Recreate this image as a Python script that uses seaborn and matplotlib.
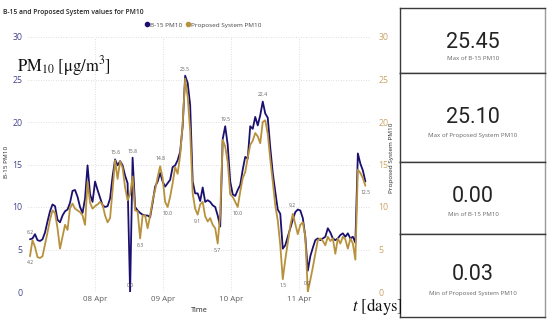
import pandas as pd
import matplotlib
matplotlib.use("Agg")
import matplotlib.pyplot as plt
import matplotlib.dates as mdates
from matplotlib.lines import Line2D
import seaborn as sns

# PM10 readings (one sample every ~53 min)
b15_pm10 = [
    6.2, 6.3, 6.8, 6.1, 6.0, 6.2, 7.0, 8.3, 9.5, 10.3, 10.1, 8.5, 8.2, 9.0, 9.5, 9.7,
    10.5, 11.9, 12.0, 11.2, 10.0, 9.3, 11.0, 14.9, 11.5, 10.6, 13.0, 12.0, 11.1, 10.2,
    10.0, 10.1, 11.0, 13.6, 15.6, 14.9, 15.4,
    14.9, 13.7, 12.8, 0.0, 15.8, 10.0, 9.6, 9.3, 9.1, 9.0, 9.0, 8.8, 10.5, 12.4, 13.0,
    14.0, 13.0, 12.4, 12.8, 13.2, 14.7, 14.9, 15.5, 16.5, 19.5, 25.45, 24.6, 22.0, 13.0,
    11.6, 11.6, 10.7, 12.3, 10.6, 10.8, 10.6,
    10.2, 10.0, 9.0, 7.7, 18.0, 19.5, 17.3, 13.0, 11.5, 11.3, 12.0, 12.6, 14.4, 15.9,
    15.7, 19.5, 19.2, 20.6, 19.6, 20.8, 22.4, 21.0, 20.5, 17.0, 14.0, 11.8, 9.7, 9.2,
    5.1, 5.5, 6.5, 7.5, 8.5, 9.4, 9.7, 9.6, 8.7, 6.5, 2.5, 4.2, 5.2, 6.1,
    6.3, 6.1, 6.3, 6.5, 7.5, 7.0, 6.3, 6.1, 6.3, 6.7, 6.9, 6.5, 6.9, 6.3, 6.5, 5.8,
    16.3, 15.1, 14.3, 13.0,
]
proposed_pm10 = [
    4.2, 6.1, 5.3, 4.1, 4.0, 4.2, 5.6, 7.0, 8.5, 9.6, 9.3, 7.5, 5.1, 6.5, 7.9, 7.3,
    9.9, 10.4, 9.8, 9.6, 9.4, 9.0, 7.9, 13.0, 10.5, 9.8, 10.1, 10.3, 10.6, 10.3,
    9.0, 8.2, 8.7, 12.0, 15.5, 13.3, 15.4,
    14.6, 12.3, 10.8, 11.5, 13.6, 9.6, 9.5, 6.3, 9.0, 9.0, 7.5, 9.0, 10.8, 12.0, 13.5,
    14.8, 13.4, 10.6, 10.0, 11.2, 12.8, 14.7, 13.9, 16.1, 19.8, 25.1, 23.0, 18.9, 11.6,
    9.8, 9.1, 10.3, 10.6, 8.9, 8.3, 8.7,
    7.9, 7.5, 5.7, 9.2, 17.9, 17.1, 15.3, 11.5, 11.2, 10.6, 10.0, 11.8, 13.4, 14.1,
    15.8, 17.3, 17.8, 18.7, 18.3, 17.5, 20.0, 20.2, 18.6, 15.6, 13.0, 10.2, 8.4, 5.5,
    1.5, 3.8, 5.8, 7.8, 9.2, 8.0, 6.8, 7.9, 8.2, 6.5, 0.03, 1.4, 2.9, 4.5,
    6.1, 6.3, 6.0, 5.5, 6.5, 6.0, 6.3, 4.5, 6.3, 5.7, 6.5, 6.2, 5.1, 6.3, 5.7, 3.8,
    14.4, 14.0, 13.4, 12.5,
]
start_time = "2021-04-07 01:03"
sample_step = "53min"
day_ticks = ["2021-04-08", "2021-04-09", "2021-04-10", "2021-04-11"]
y_ticks = [0, 5, 10, 15, 20, 25, 30]

# which points carry a data label
b15_label_idx = [0, 34, 40, 41, 62, 78, 93]
proposed_label_below = [0, 44, 55, 67, 75, 83, 101, 134]
proposed_label_above = [52, 105, 111]

NAVY = "#1b1070"
GOLD = "#b8913c"
GREY = "#605e5c"


def fmt1(v):
    # round half up like the dashboard does (25.45 -> 25.5)
    return f"{v + 1e-9:.1f}"


times = pd.date_range(start_time, periods=len(b15_pm10), freq=sample_step)
df = pd.DataFrame({"Time": times,
                   "B-15 PM10": b15_pm10,
                   "Proposed System PM10": proposed_pm10})

sns.set_theme(style="white")
plt.rcParams["font.family"] = ["Open Sans", "DejaVu Sans"]
plt.rcParams["mathtext.fontset"] = "stix"

fig = plt.figure(figsize=(5.5, 3.24), dpi=100)
W, H = 550, 324
ax = fig.add_axes([28 / W, 1 - 292 / H, 342 / W, 255 / H])

sns.lineplot(data=df, x="Time", y="B-15 PM10", ax=ax, color=NAVY, lw=1.3)
ax2 = ax.twinx()
sns.lineplot(data=df, x="Time", y="Proposed System PM10", ax=ax2, color=GOLD, lw=1.3)

for a in (ax, ax2):
    a.set_ylim(0, 30)
    a.set_yticks(y_ticks)
    a.set_ylabel("")
    a.set_xlabel("")
    for s in a.spines.values():
        s.set_visible(False)
ax.set_xlim(pd.Timestamp("2021-04-07 00:21"), pd.Timestamp("2021-04-12 01:03"))
ax.set_xticks(pd.to_datetime(day_ticks))
ax.xaxis.set_major_formatter(mdates.DateFormatter("%d %b"))
ax.grid(True, color="#d4d4d4", linestyle=(0, (1, 2)), lw=0.6)
ax2.grid(False)
ax.tick_params(axis="x", length=0, pad=3, labelsize=5.8, labelcolor=GREY)
ax.tick_params(axis="y", length=0, pad=4, labelsize=6.3, labelcolor="#44448c")
ax2.tick_params(axis="y", length=0, pad=6, labelsize=6.3, labelcolor="#c9a466")

# data labels
for i in b15_label_idx:
    ax.annotate(fmt1(b15_pm10[i]), (times[i], b15_pm10[i]), xytext=(0, 3),
                textcoords="offset points", ha="center", va="bottom",
                fontsize=3.6, color=GREY)
for i in proposed_label_below:
    ax2.annotate(fmt1(proposed_pm10[i]), (times[i], proposed_pm10[i]), xytext=(0, -3),
                 textcoords="offset points", ha="center", va="top",
                 fontsize=3.6, color=GREY)
for i in proposed_label_above:
    ax2.annotate(fmt1(proposed_pm10[i]), (times[i], proposed_pm10[i]), xytext=(0, 4),
                 textcoords="offset points", ha="center", va="bottom",
                 fontsize=3.6, color=GREY)

# titles / axis names
fig.text(3 / W, 1 - 13 / H, "B-15 and Proposed System values for PM10",
         fontsize=4.9, color="#252423", va="center", fontweight="semibold")
fig.text(7 / W, 1 - 162 / H, "B-15 PM10", rotation=90, fontsize=4.6,
         color="#252423", ha="center", va="center")
fig.text(391 / W, 1 - 158 / H, "Proposed System PM10", rotation=90, fontsize=4.6,
         color="#252423", ha="center", va="center")
fig.text(199 / W, 1 - 310 / H, "Time", fontsize=5.2, color="#252423",
         ha="center", va="center")

handles = [Line2D([], [], ls="", marker="o", ms=3, color=NAVY),
           Line2D([], [], ls="", marker="o", ms=3, color=GOLD)]
fig.legend(handles, ["B-15 PM10", "Proposed System PM10"], loc="center left",
           bbox_to_anchor=(142 / W, 1 - 25 / H), ncol=2, frameon=False,
           fontsize=4.6, handlelength=0.6, handletextpad=0.2, columnspacing=0.5,
           labelcolor="#444444", borderpad=0)

# serif annotations on top of the chart
fig.text(17 / W, 1 - 71 / H, r"PM$_{10}$ [μg/m$^{3}$]", fontsize=12,
         family="STIXGeneral", va="baseline", color="#111111")
fig.text(352 / W, 1 - 311 / H, r"$t$ [days]", fontsize=12,
         family="STIXGeneral", va="baseline", color="#111111")

# KPI cards
card_edges = [8, 73, 162, 234, 317]
card_vals = [f"{max(b15_pm10):.2f}", f"{max(proposed_pm10):.2f}",
             f"{min(b15_pm10):.2f}", f"{min(proposed_pm10):.2f}"]
card_names = ["Max of B-15 PM10", "Max of Proposed System PM10",
              "Min of B-15 PM10", "Min of Proposed System PM10"]
card_val_y = [42, 117, 197, 275]
card_name_y = [58, 135, 215, 293]
for k in range(4):
    top, bot = card_edges[k], card_edges[k + 1]
    cax = fig.add_axes([400 / W, 1 - bot / H, 145 / W, (bot - top) / H])
    cax.set_xticks([])
    cax.set_yticks([])
    cax.set_facecolor("white")
    for name, s in cax.spines.items():
        s.set_color("#9a9a9a" if name == "right" else "#3a3a3a")
        s.set_linewidth(1.0)
    fig.text(473 / W, 1 - card_val_y[k] / H, card_vals[k], fontsize=15.5,
             family="Roboto", color="#252423", ha="center", va="center")
    fig.text(473 / W, 1 - card_name_y[k] / H, card_names[k], fontsize=4.4,
             color="#666666", ha="center", va="center")

fig.savefig("out.png", dpi=100, facecolor="white")
